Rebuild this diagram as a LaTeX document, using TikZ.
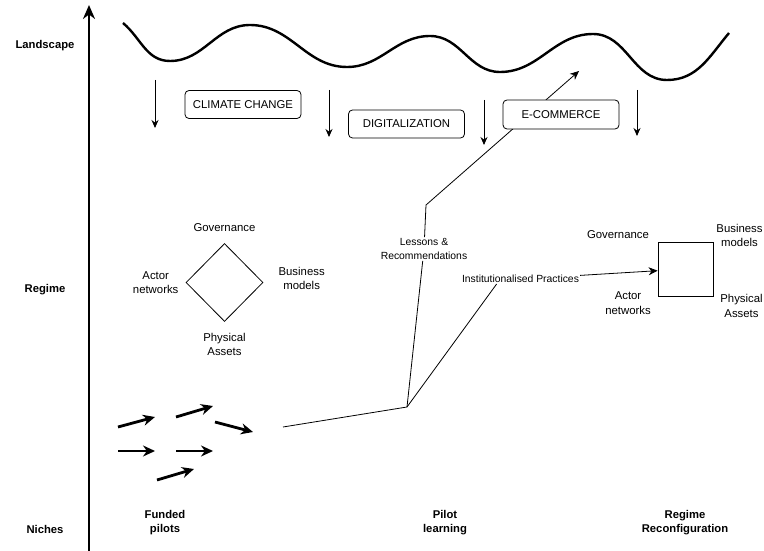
\documentclass[tikz,border=0pt]{standalone}
\usepackage{fontspec}
\setmainfont{Liberation Sans}
\usetikzlibrary{arrows.meta, positioning, shapes.geometric, calc}

\begin{document}
\begin{tikzpicture}[
    x=1bp, y=-1bp,
    every node/.style={inner sep=1bp},
    lbl/.style={align=center, font=\fontsize{11.4}{14.5}\selectfont},
    level/.style={align=center, font=\fontsize{11.3}{14}\selectfont\bfseries},
    edgelbl/.style={align=center, fill=white, font=\fontsize{10.4}{14}\selectfont},
    driver/.style={draw, fill=white, rounded corners=4bp, line width=0.8bp, minimum width=116bp, minimum height=28bp, font=\fontsize{11.4}{13}\selectfont},
    axis/.style={draw, line width=2.6bp, -{Stealth[length=14bp, width=12bp]}},
    wave/.style={draw, line width=2.4bp},
    push/.style={draw, line width=0.9bp, -{Stealth[length=8bp, width=7bp]}},
    pilot/.style={draw, line width=2.8bp, -{Stealth[length=12bp, width=11bp]}},
    line/.style={draw, line width=0.8bp},
    arrowline/.style={draw, line width=0.8bp, -{Stealth[length=9bp, width=8bp]}}
]
    \useasboundingbox (0,0) rectangle (764,551);

    % Levels
    \coordinate (axisbot) at (89,551);
    \coordinate (axistop) at (89,5);
    \draw[axis] (axisbot) -- (axistop);
    \node[level] (landscape) at (45,46) {Landscape};
    \node[level] (regime) at (45,290) {Regime};
    \node[level] (niches) at (45,529) {Niches};

    % Landscape wave
    \draw[wave] (123,23) to[out=-40,in=180] (170,61) to[out=0,in=180] (250,25)
        to[out=0,in=180] (347,67) to[out=0,in=180] (430,36) to[out=0,in=180] (500,72)
        to[out=0,in=180] (593,34) to[out=0,in=180] (667,80) to[out=0,in=-130] (729,33);

    % Landscape pressure
    \coordinate (p1top) at (155,80);  \coordinate (p1bot) at (155,128);
    \coordinate (p2top) at (329,90);  \coordinate (p2bot) at (329,137);
    \coordinate (p3top) at (484,100); \coordinate (p3bot) at (484,145);
    \coordinate (p4top) at (637,90);  \coordinate (p4bot) at (637,136);
    \draw[push] (p1top) -- (p1bot);
    \draw[push] (p2top) -- (p2bot);
    \draw[push] (p3top) -- (p3bot);
    \draw[push] (p4top) -- (p4bot);

    % Pilot learning
    \coordinate (pivot) at (407,407);
    \coordinate (swarm) at (283,427);
    \coordinate (bend) at (426,205);
    \coordinate (tip) at (579,71);
    \node[edgelbl] (lessons) at (424,249) {Lessons \&\\Recommendations};
    \node[edgelbl] (practices) at (520.5,279) {Institutionalised Practices};
    \draw[line] (swarm) -- (pivot);
    \draw[line] (pivot) -- (lessons);
    \draw[arrowline] (lessons) -- (bend) -- (tip);
    \draw[line] (pivot) -- ($(practices.south west)!0.3!(practices.south east)$);

    % Landscape drivers
    \node[driver] (climate) at (243,104.5) {CLIMATE CHANGE};
    \node[driver] (digital) at (406.5,124) {DIGITALIZATION};
    \node[driver, minimum height=29bp] (ecommerce) at (561,114.5) {E-COMMERCE};

    % Current regime
    \node[draw, diamond, line width=0.8bp, minimum width=77bp, minimum height=78bp, inner sep=0pt] (regimeA) at (224.5,282.5) {};
    \node[lbl, above=10bp of regimeA] (govA) {Governance};
    \node[lbl, left=6bp of regimeA] (actorA) {Actor\\networks};
    \node[lbl, right=14bp of regimeA, yshift=4bp] (businessA) {Business\\models};
    \node[lbl, below=10bp of regimeA] (assetsA) {Physical\\Assets};

    % Reconfigured regime
    \node[draw, line width=0.8bp, minimum width=55bp, minimum height=54bp] (regimeB) at (685.5,269) {};
    \node[lbl] (govB) at (618,235) {Governance};
    \node[lbl] (actorB) at (628,303) {Actor\\networks};
    \node[lbl] (businessB) at (739.5,235.5) {Business\\models};
    \node[lbl] (assetsB) at (741.5,306) {Physical\\Assets};
    \draw[arrowline] (practices) -- (regimeB);

    % Funded pilots
    \coordinate (f1a) at (118,427); \coordinate (f1b) at (155,417);
    \coordinate (f2a) at (176,417); \coordinate (f2b) at (213,406);
    \coordinate (f3a) at (215,422); \coordinate (f3b) at (253,432);
    \coordinate (f4a) at (118,451); \coordinate (f4b) at (155,451);
    \coordinate (f5a) at (176,451); \coordinate (f5b) at (213,451);
    \coordinate (f6a) at (157,480); \coordinate (f6b) at (194,469);
    \draw[pilot] (f1a) -- (f1b);
    \draw[pilot] (f2a) -- (f2b);
    \draw[pilot] (f3a) -- (f3b);
    \draw[pilot] (f4a) -- (f4b);
    \draw[pilot] (f5a) -- (f5b);
    \draw[pilot] (f6a) -- (f6b);

    % Phases
    \node[level] (funded) at (165,523) {Funded\\pilots};
    \node[level] (learning) at (445,523) {Pilot\\learning};
    \node[level] (reconf) at (685,523) {Regime\\Reconfiguration};
\end{tikzpicture}
\end{document}
